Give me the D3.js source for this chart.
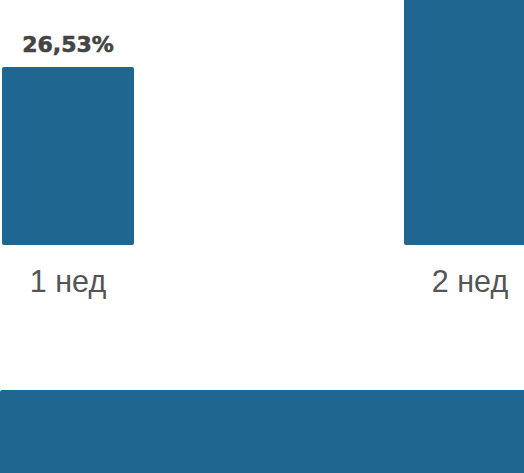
<!DOCTYPE html>
<html>
<head>
<meta charset="utf-8">
<script src="https://cdn.jsdelivr.net/npm/d3@7"></script>
<style>
  html, body { margin: 0; padding: 0; background: #fff; overflow: hidden; }
  .bar { fill: #1f6690; }
  .bar-value { font-family: "DejaVu Sans", sans-serif; font-weight: bold; font-size: 22px; fill: #444; stroke: #444; stroke-width: 0.6px; }
  .bar-label { font-family: "Liberation Sans", Arial, sans-serif; font-size: 30.5px; fill: #555; }
</style>
</head>
<body>
<div id="chart"></div>
<script>
// weekly shares (%)
var weeks = ["1 нед", "2 нед"];
var shares = [26.53, 47.2];
var valueLabels = ["26,53%", "47,20%"];

// next row, only its top edge is visible
var nextRow = ["3 нед"];
var nextRowValues = [100];

var width = 524,
  height = 473;

var svg = d3
  .select("#chart")
  .append("svg")
  .attr("width", width)
  .attr("height", height)
  .attr("viewBox", [0, 0, width, height]);

var data = weeks.map((w, i) => ({ week: w, value: shares[i], label: valueLabels[i] }));

// x axis for the weeks
var x = d3.scaleBand().domain(weeks).range([2, 536]).paddingInner(0.6716).paddingOuter(0);

// y axis
var y = d3.scaleLinear().domain([0, 36.5]).range([245, 0]);

svg
  .selectAll(".bar")
  .data(data)
  .enter()
  .append("rect")
  .attr("class", "bar")
  .attr("x", (d) => x(d.week))
  .attr("y", (d) => y(d.value))
  .attr("width", x.bandwidth())
  .attr("height", (d) => y(0) - y(d.value))
  .attr("rx", 2);

// value labels, the ones above the top edge are not drawn
svg
  .selectAll(".bar-value")
  .data(data.filter((d) => y(d.value) - 15 > 20))
  .enter()
  .append("text")
  .attr("class", "bar-value")
  .attr("x", (d) => x(d.week) + x.bandwidth() / 2)
  .attr("y", (d) => y(d.value) - 15)
  .attr("text-anchor", "middle")
  .text((d) => d.label);

// week labels
var xAxis = svg
  .append("g")
  .attr("transform", "translate(0," + y(0) + ")")
  .call(d3.axisBottom(x).tickSize(0).tickPadding(0));

xAxis.select(".domain").remove();
xAxis
  .selectAll("text")
  .attr("class", "bar-label")
  .attr("dy", null)
  .attr("y", 47)
  .attr("font-family", null)
  .attr("font-size", null)
  .attr("fill", null);

// second row bar
var x2 = d3.scaleLinear().domain([0, 95]).range([0, width]);
var y2 = d3.scaleBand().domain(nextRow).range([390, 590]).padding(0);

svg
  .selectAll(".bar-next")
  .data(nextRow)
  .enter()
  .append("rect")
  .attr("class", "bar")
  .attr("x", x2(0))
  .attr("y", (d) => y2(d))
  .attr("width", (d, i) => x2(nextRowValues[i]))
  .attr("height", y2.bandwidth())
  .attr("rx", 2);
</script>
</body>
</html>
